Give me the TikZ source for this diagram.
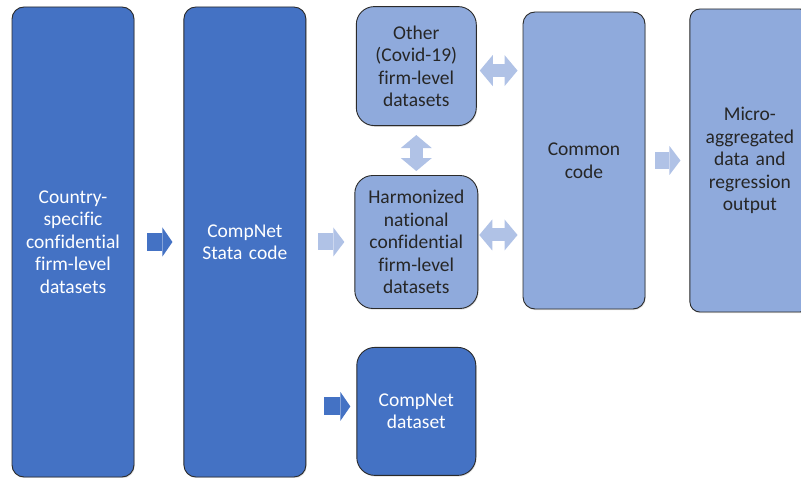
\documentclass[tikz,border=0pt]{standalone}
\usepackage{fontspec}
\setmainfont{Carlito}[Ligatures=NoCommon]
\usepackage{xcolor}
\usetikzlibrary{arrows.meta, positioning, shadows}
\definecolor{darkblue}{HTML}{4472C4}
\definecolor{paleblue}{HTML}{8FAADC}
\definecolor{arrowpale}{HTML}{B0C2E6}
\definecolor{edgegrey}{HTML}{2B2B2B}

\begin{document}
\begin{tikzpicture}[
    x=1pt, y=-1pt,
    box/.style={
        rectangle, rounded corners=12pt,
        draw=edgegrey, line width=0.9pt,
        drop shadow={shadow xshift=0.8pt, shadow yshift=-1.2pt, opacity=0.25},
        text width=112pt, align=center, inner sep=0pt,
        font=\fontsize{19.5}{22.5}\selectfont
    },
    darkbox/.style={box, fill=darkblue, text=white},
    palebox/.style={box, fill=paleblue, text=black!85},
    smallbox/.style={rounded corners=18pt},
    darkblk/.style={line width=18pt, draw=darkblue,
        -{Triangle[length=10pt, width=29pt, line width=0pt]}},
    paleblk/.style={line width=17pt, draw=arrowpale,
        -{Triangle[length=11pt, width=29pt, line width=0pt]}},
    dblarrow/.style={line width=13pt, draw=arrowpale,
        {Triangle[length=13pt, width=31pt, line width=0pt]}-{Triangle[length=13pt, width=31pt, line width=0pt]}}
]
\useasboundingbox (0,0) rectangle (801,478);

\node[darkbox, minimum width=122pt, minimum height=470pt] (b1) at (73,242)
    {Country-\\specific\\confidential\\firm-level\\datasets};
\node[darkbox, minimum width=122pt, minimum height=470pt, right=49pt of b1] (b2)
    {CompNet\\Stata code};
\node[palebox, smallbox, minimum width=123pt, minimum height=133pt, right=48pt of b2] (harm)
    {Harmonized\\national\\confidential\\firm-level\\datasets};
\node[palebox, smallbox, minimum width=120pt, minimum height=119pt, above=49pt of harm] (oth)
    {Other\\(Covid-19)\\firm-level\\datasets};
\node[darkbox, smallbox, minimum width=119pt, minimum height=128pt, below=38pt of harm] (cds)
    {CompNet\\dataset};
\node[palebox, minimum width=122pt, minimum height=297pt] (com) at (584,160.5)
    {Common\\code};
\node[palebox, rounded corners=10pt, minimum width=120pt, minimum height=303pt, right=44pt of com] (mic)
    {Micro-\\aggregated\\data and\\regression\\output};

\draw[darkblk, shorten <=13pt, shorten >=11pt] (b1.east) -- (b2.west);
\draw[paleblk, shorten <=12pt, shorten >=10pt] (harm.west -| b2.east) -- (harm.west);
\draw[darkblk, shorten <=18pt, shorten >=6pt] ([yshift=5pt]cds.west -| b2.east) -- ([yshift=5pt]cds.west);
\draw[dblarrow, shorten <=9pt, shorten >=4pt] (oth.south) -- (harm.north);
\draw[dblarrow, shorten <=3pt, shorten >=5pt] ([yshift=-4.5pt]oth.east) -- ([yshift=-4.5pt]oth.east -| com.west);
\draw[dblarrow, shorten <=1pt, shorten >=5pt] ([yshift=7pt]harm.east) -- ([yshift=7pt]harm.east -| com.west);
\draw[paleblk, shorten <=10pt, shorten >=9pt] (com.east) -- (mic.west);
\end{tikzpicture}
\end{document}
